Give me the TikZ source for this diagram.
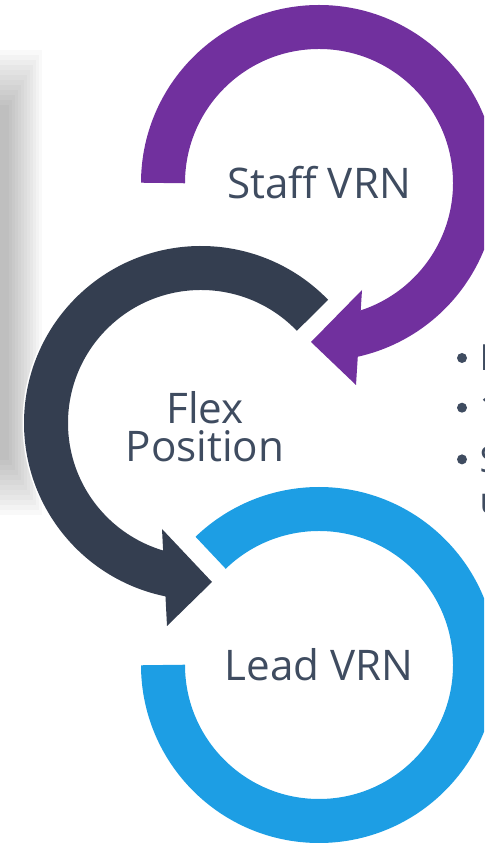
\documentclass[tikz,border=0pt]{standalone}
\usepackage{fontspec}
\setmainfont{Open Sans}
\usepackage{xcolor}
\usepackage{tikz}
\usetikzlibrary{positioning}
\definecolor{vrnpurple}{RGB}{113,48,158}
\definecolor{vrndark}{RGB}{52,62,80}
\definecolor{vrnblue}{RGB}{29,158,228}
\definecolor{slate}{RGB}{63,76,96}
\tikzstyle{ring} = [line width=0.88cm]
\tikzstyle{ringtext} = [text=slate, inner sep=0pt, font=\fontsize{24}{28}\selectfont]
\tikzstyle{dot} = [circle, fill=slate, inner sep=0pt, minimum size=0.2cm]
\tikzstyle{item} = [text=slate, inner sep=0pt, font=\fontsize{20.5}{24}\selectfont]

\begin{document}
\begin{tikzpicture}[x=0.02cm, y=0.02cm]
	\useasboundingbox (0,0) rectangle (484,845);
	\clip (0,0) rectangle (484,845);
	\foreach \k in {1,...,12}
		\fill[black, opacity=0.025] (-40,325+5*\k) rectangle (45-3*\k,800-5*\k);
	\coordinate (c1) at (319,662);
	\coordinate (c2) at (201,422);
	\coordinate (c3) at (319,180);
	\draw[ring, vrnpurple] ([shift={(180:156)}]c1) arc[start angle=180, end angle=-78, radius=156];
	\fill[vrnpurple] ([shift={(43,-107)}]c1) -- ([shift={(-8,-159)}]c1) -- ([shift={(37,-202)}]c1) -- cycle;
	\draw[ring, white, line width=0.94cm] ([shift={(44:155)}]c2) arc[start angle=44, end angle=260, radius=155];
	\draw[ring, vrndark] ([shift={(44:155)}]c2) arc[start angle=44, end angle=260, radius=155];
	\fill[vrndark] ([shift={(-39,-106)}]c2) -- ([shift={(11,-159)}]c2) -- ([shift={(-34,-203)}]c2) -- cycle;
	\draw[ring, vrnblue] ([shift={(180:156)}]c3) arc[start angle=180, end angle=494, radius=156];
	\node[ringtext] (staff) at (c1) {Staff VRN};
	\node[ringtext, anchor=base] (flex) at (205,421) {Flex};
	\node[ringtext, anchor=base] (pos) at ([yshift=-0.76cm]flex.base) {Position};
	\node[ringtext] (lead) at (c3) {Lead VRN};
	\node[dot] (d1) at (462,487) {};
	\node[dot] (d2) [below=0.78cm of d1] {};
	\node[dot] (d3) [below=0.82cm of d2] {};
	\node[item] (t1) [right=0.24cm of d1] {I};
	\node[item] (t2) [right=0.24cm of d2] {1};
	\node[item] (t3) [right=0.24cm of d3] {S};
	\node[item, anchor=base west] (t4) at ([yshift=-0.82cm]t3.base west) {u};
\end{tikzpicture}
\end{document}
